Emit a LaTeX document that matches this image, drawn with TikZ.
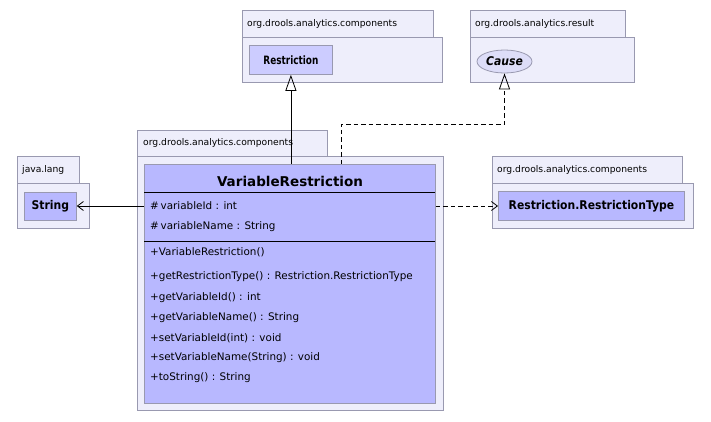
\documentclass[tikz,border=0pt]{standalone}
\usepackage{fontspec}
\usepackage{graphicx}
\setmainfont{DejaVu Sans}
\newfontfamily\condf{DejaVu Sans Condensed}
\usetikzlibrary{arrows.meta,shapes.geometric}
\definecolor{pkgfill}{HTML}{EEEEFB}
\definecolor{pkgdraw}{HTML}{9999B0}
\definecolor{clsfill}{HTML}{B8B8FF}
\definecolor{ifill}{HTML}{CCCCFF}
\definecolor{efill}{HTML}{DDDDF8}
\tikzset{
  pkg/.style={draw=pkgdraw,fill=pkgfill,line width=0.8pt,inner sep=0pt,anchor=north west},
  pkgtext/.style={font=\fontsize{9.2}{10}\selectfont,anchor=west,inner sep=0pt},
  cls/.style={draw=pkgdraw,fill=clsfill,line width=0.8pt,inner sep=0pt,anchor=north west},
  ifc/.style={draw=pkgdraw,fill=ifill,line width=0.8pt,inner sep=0pt,anchor=north west},
  clsname/.style={font=\condf\bfseries\fontsize{12}{14}\selectfont,inner sep=0pt},
  member/.style={font=\fontsize{10.4}{12}\selectfont,anchor=west,inner sep=0pt},
  conn/.style={line width=0.8pt,black},
  inh/.style={conn,-{Triangle[open,length=16pt,width=11pt]}},
  dep/.style={conn,dash pattern=on 4.5pt off 3pt,-{Straight Barb[length=6pt,width=9pt]}},
  assoc/.style={conn,-{Straight Barb[length=6pt,width=9pt]}}
}
\begin{document}
\begin{tikzpicture}[x=1pt,y=-1pt]
\useasboundingbox[fill=white] (0,0) rectangle (711,421);
% package: Restriction
\node[pkg,minimum width=191pt,minimum height=27pt] (p1tab) at (242,10) {};
\node[pkg,minimum width=200pt,minimum height=45pt] (p1) at (242,37) {};
\node[pkgtext] (p1l) at (247,23.5) {org.drools.analytics.components};
\node[ifc,minimum width=83pt,minimum height=29pt] (restr) at (249,45) {};
\node[clsname,font=\condf\bfseries\fontsize{11.5}{13}\selectfont] (restrl) at (restr.center) {\scalebox{0.86}[1]{Restriction}};
% package: Cause
\node[pkg,minimum width=155pt,minimum height=27pt] (p2tab) at (470,10) {};
\node[pkg,minimum width=164pt,minimum height=45pt] (p2) at (470,37) {};
\node[pkgtext] (p2l) at (475,23.5) {org.drools.analytics.result};
\node[ellipse,draw=pkgdraw,fill=efill,line width=0.8pt,minimum width=55pt,minimum height=23pt,inner sep=0pt,font=\condf\bfseries\itshape\fontsize{12}{14}\selectfont] (cause) at (504.5,61.5) {Cause};
% package: java.lang
\node[pkg,minimum width=62pt,minimum height=27pt] (p3tab) at (17,156) {};
\node[pkg,minimum width=72pt,minimum height=45pt] (p3) at (17,183) {};
\node[pkgtext] (p3l) at (22,169.5) {java.lang};
\node[cls,minimum width=52pt,minimum height=28pt] (str) at (24,192) {};
\node[clsname] (strl) at (str.center) {String};
% package: RestrictionType
\node[pkg,minimum width=190pt,minimum height=27pt] (p4tab) at (492,156) {};
\node[pkg,minimum width=201pt,minimum height=45pt] (p4) at (492,183) {};
\node[pkgtext] (p4l) at (497,169.5) {org.drools.analytics.components};
\node[cls,minimum width=186pt,minimum height=29pt] (rtype) at (498,191) {};
\node[clsname] (rtypel) at (rtype.center) {Restriction.RestrictionType};
% main package
\node[pkg,minimum width=190pt,minimum height=26pt] (p5tab) at (137,130) {};
\node[pkg,minimum width=306pt,minimum height=254pt] (p5) at (137,156) {};
\node[pkgtext] (p5l) at (143,143) {org.drools.analytics.components};
\node[cls,minimum width=291pt,minimum height=239pt] (vr) at (144,164) {};
\node[font=\bfseries\fontsize{13.5}{15}\selectfont,inner sep=0pt] (vrl) at (290,181) {VariableRestriction};
\draw[black,line width=0.8pt] (144,192) -- (435,192);
\draw[black,line width=0.8pt] (144,241) -- (435,241);
\node[member] (a1) at (150,206) {\#\,variableId : int};
\node[member] (a2) at (150,227) {\#\,variableName : String};
\node[member] (o1) at (150,252) {+VariableRestriction()};
\node[member] (o2) at (150,277) {+getRestrictionType() : Restriction.RestrictionType};
\node[member] (o3) at (150,298) {+getVariableId() : int};
\node[member] (o4) at (150,318) {+getVariableName() : String};
\node[member] (o5) at (150,338) {+setVariableId(int) : void};
\node[member] (o6) at (150,358) {+setVariableName(String) : void};
\node[member] (o7) at (150,378) {+toString() : String};
% connectors
\draw[inh] (vr.north -| restr.south) -- (restr.south);
\coordinate (dstart) at (341,164);
\coordinate (dbend) at (341,124);
\draw[conn,dash pattern=on 4.5pt off 3pt,-{Triangle[open,length=16pt,width=11pt]}] (dstart) -- (dbend) -| (cause.south);
\draw[assoc] (vr.west |- a1) -- (str.east |- a1);
\draw[dep] (vr.east |- a1) -- (rtype.west |- a1);
\end{tikzpicture}
\end{document}
